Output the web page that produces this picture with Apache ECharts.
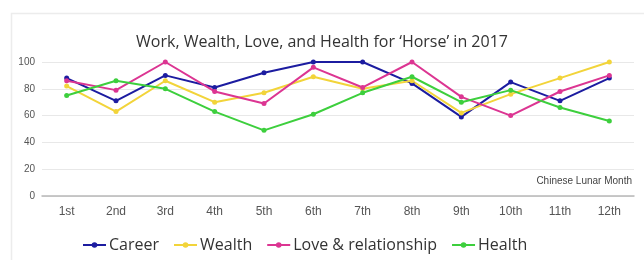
<!DOCTYPE html>
<html>
<head>
<meta charset="utf-8">
<title>Horse 2017</title>
<script src="https://cdn.jsdelivr.net/npm/echarts@6/dist/echarts.min.js"></script>
<style>
	html, body { margin: 0; padding: 0; background: #fff; }
	#lineChart { width: 644px; height: 260px; }
</style>
</head>
<body>
<div id="lineChart"></div>
<script>
	//农历月份
	var months = ['1st', '2nd', '3rd', '4th', '5th', '6th', '7th', '8th', '9th', '10th', '11th', '12th'];

	//各项运势 (读图估值)
	var career = [88, 71, 90, 81, 92, 100, 100, 84, 59, 85, 71, 88];
	var wealth = [82, 63, 86, 70, 77, 89, 80, 86, 62, 76, 88, 100];
	var love = [86, 79, 100, 78, 69, 96, 81, 100, 74, 60, 78, 90];
	var health = [75, 86, 80, 63, 49, 61, 77, 89, 70, 79, 66, 56];

	var yTicks = [0, 20, 40, 60, 80, 100];

	var names = ['Career', 'Wealth', 'Love & relationship', 'Health'];
	var colors = ['#1c1ca0', '#f2d43a', '#dc3592', '#3dcf3d'];

	function makeSeries(name, data, color) {
		return {
			name: name,
			type: 'line',
			data: data,
			symbol: 'circle',
			symbolSize: 5,
			lineStyle: { width: 2, color: color },
			itemStyle: { color: color },
			emphasis: { disabled: true }
		};
	}

	var chart = echarts.init(document.getElementById('lineChart'));

	var option = {
		animation: false,
		backgroundColor: '#fff',
		title: {
			text: 'Work, Wealth, Love, and Health for \u2018Horse\u2019 in 2017',
			left: 'center',
			top: 29,
			textStyle: {
				color: '#333',
				fontFamily: 'Open Sans',
				fontWeight: 'normal',
				fontSize: 16
			}
		},
		legend: {
			data: names,
			left: 77,
			top: 232,
			itemWidth: 23,
			itemHeight: 7,
			itemGap: 14,
			textStyle: {
				color: '#333',
				fontFamily: 'Open Sans',
				fontSize: 16,
				padding: [0, 0, 0, -2]
			}
		},
		grid: {
			left: 42,
			right: 10,
			top: 62,
			bottom: 64,
			containLabel: false
		},
		xAxis: {
			type: 'category',
			data: months,
			boundaryGap: true,
			axisLine: { lineStyle: { color: '#b8b8b8', width: 1.5 } },
			axisTick: { alignWithLabel: true, inside: true, length: 3, lineStyle: { color: '#999' } },
			axisLabel: {
				color: '#555',
				fontFamily: 'Liberation Sans',
				fontSize: 12,
				margin: 10
			}
		},
		yAxis: {
			type: 'value',
			min: yTicks[0],
			max: yTicks[yTicks.length - 1],
			interval: yTicks[1] - yTicks[0],
			axisLine: { show: false },
			axisTick: { show: false },
			splitLine: { lineStyle: { color: '#e8e8e8' } },
			axisLabel: {
				color: '#555',
				fontFamily: 'Liberation Sans',
				fontSize: 10,
				margin: 7
			}
		},
		graphic: [
			//外框
			{
				type: 'rect',
				left: 9,
				top: 11,
				shape: { width: 800, height: 400 },
				style: { fill: 'none', stroke: '#ececec', lineWidth: 1.5 },
				silent: true
			},
			//横轴名称
			{
				type: 'text',
				right: 12,
				top: 176,
				style: {
					text: 'Chinese Lunar Month',
					fill: '#444',
					font: '10px "Liberation Sans"'
				}
			}
		],
		series: [
			makeSeries(names[0], career, colors[0]),
			makeSeries(names[1], wealth, colors[1]),
			makeSeries(names[2], love, colors[2]),
			makeSeries(names[3], health, colors[3])
		]
	};

	chart.setOption(option);
</script>
</body>
</html>
